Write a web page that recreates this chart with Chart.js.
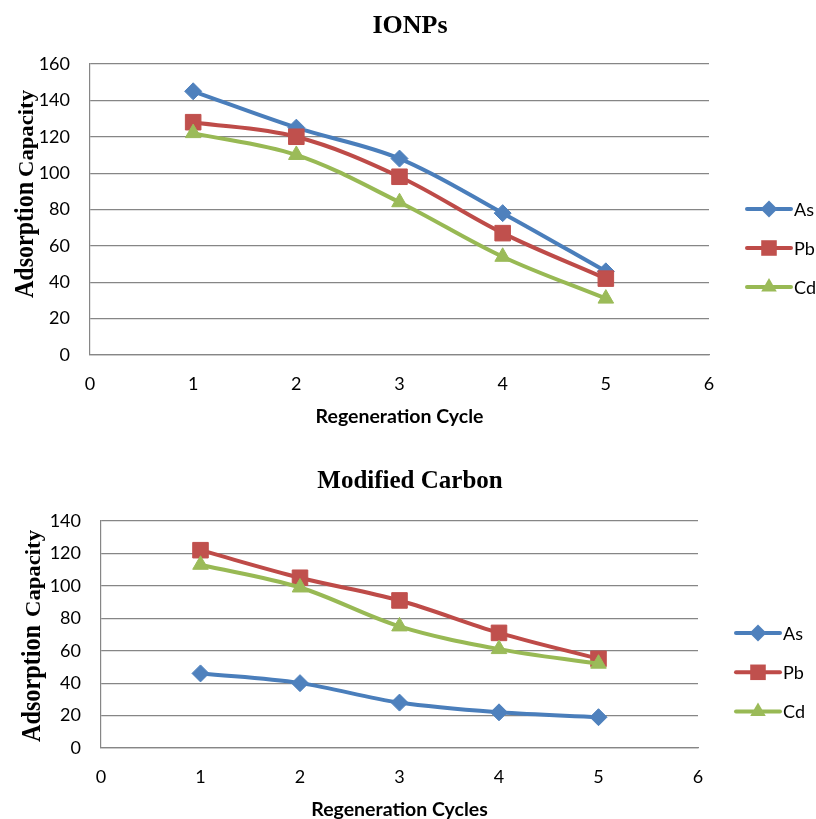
<!DOCTYPE html>
<html>
<head>
<meta charset="utf-8">
<title>Adsorption capacity over regeneration cycles</title>
<script src="https://cdn.jsdelivr.net/npm/chart.js@4/dist/chart.umd.min.js"></script>
<style>
  html, body { margin: 0; padding: 0; background: #ffffff; }
  #wrap { position: relative; width: 816px; height: 819px; overflow: hidden; background: #ffffff; }
  .panel { position: absolute; left: 0; }
</style>
</head>
<body>
<div id="wrap">
  <div class="panel" style="top:0px"><canvas id="ionpsChart" width="816" height="440"></canvas></div>
  <div class="panel" style="top:440px"><canvas id="carbonChart" width="816" height="379"></canvas></div>
</div>
<script>
// ---- data ----
const cycles = [1, 2, 3, 4, 5];
const seriesNames = ['As', 'Pb', 'Cd'];

const ionpsAs = [145, 125, 108, 78, 46];
const ionpsPb = [128, 120, 98, 67, 42];
const ionpsCd = [122, 110, 84, 54, 31];

const carbonAs = [46, 40, 28, 22, 19];
const carbonPb = [122, 105, 91, 71, 55];
const carbonCd = [113, 99, 75, 61, 52];

const xTicks = [0, 1, 2, 3, 4, 5, 6];
const ionpsYTicks = [0, 20, 40, 60, 80, 100, 120, 140, 160];
const carbonYTicks = [0, 20, 40, 60, 80, 100, 120, 140];

const ionpsTitle = 'IONPs';
const carbonTitle = 'Modified Carbon';
const yTitleParts = ['Adsorption', 'Capacity'];
const ionpsXTitle = 'Regeneration Cycle';
const carbonXTitle = 'Regeneration Cycles';

// ---- styling ----
const lineColors = ['#4A7EBB', '#BE4B48', '#98B954'];
const markerColors = ['#4F81BD', '#C0504D', '#9BBB59'];
const markerStyles = ['rectRot', 'rect', 'triangle'];
const markerRadius = [8.5, 11, 9];
const gridColor = '#868686';
const tickFont = { family: 'Lato', size: 18 };
const serif = '"Liberation Serif", "Times New Roman", serif';

function makeDatasets(values) {
  return values.map((vals, i) => ({
    label: seriesNames[i],
    data: cycles.map((c, k) => ({ x: c, y: vals[k] })),
    borderColor: lineColors[i],
    backgroundColor: markerColors[i],
    pointBackgroundColor: markerColors[i],
    pointBorderColor: markerColors[i],
    borderWidth: 4,
    pointStyle: markerStyles[i],
    pointRadius: markerRadius[i],
    pointHoverRadius: markerRadius[i],
    pointBorderWidth: 1,
    tension: 0.35,
    order: 3 - i
  }));
}

// Small marker shapes used by the legend swatches
function drawMarker(ctx, style, x, y, r, color) {
  ctx.save();
  ctx.fillStyle = color;
  ctx.beginPath();
  if (style === 'rectRot') {
    ctx.moveTo(x, y - r); ctx.lineTo(x + r, y); ctx.lineTo(x, y + r); ctx.lineTo(x - r, y);
  } else if (style === 'rect') {
    const s = r * Math.SQRT1_2;
    ctx.rect(x - s, y - s, 2 * s, 2 * s);
  } else {
    const h = r * 1.5, w = r * Math.sqrt(3);
    ctx.moveTo(x, y - r); ctx.lineTo(x + w / 2, y + h - r); ctx.lineTo(x - w / 2, y + h - r);
  }
  ctx.closePath();
  ctx.fill();
  ctx.restore();
}

// Titles, two-size vertical axis title and line+marker legend
const decorPlugin = {
  id: 'decor',
  afterDraw(chart, args, o) {
    const ctx = chart.ctx;
    ctx.save();
    ctx.fillStyle = '#000000';

    // chart title
    ctx.font = 'bold ' + o.titleSize + 'px ' + serif;
    ctx.textAlign = 'center';
    ctx.textBaseline = 'alphabetic';
    ctx.fillText(o.title, o.titleX, o.titleY);

    // vertical axis title, read bottom-to-top
    ctx.save();
    ctx.translate(o.yTitleBaseX, o.yTitleStartY);
    ctx.rotate(-Math.PI / 2);
    ctx.textAlign = 'left';
    let pos = 0;
    o.yTitleParts.forEach((part, i) => {
      ctx.font = 'bold ' + o.yTitleSizes[i] + 'px ' + serif;
      const w = ctx.measureText(part).width;
      const sx = o.yTitleLengths[i] / w;
      ctx.save();
      ctx.translate(pos, 0);
      ctx.scale(sx, 1);
      ctx.fillText(part, 0, 0);
      ctx.restore();
      pos += o.yTitleLengths[i] + o.yTitleGap;
    });
    ctx.restore();

    // legend
    ctx.textAlign = 'left';
    ctx.textBaseline = 'middle';
    ctx.font = '18px Lato';
    chart.data.datasets.forEach((ds, i) => {
      const y = o.legendY + i * o.legendGap;
      ctx.strokeStyle = ds.borderColor;
      ctx.lineWidth = 4;
      ctx.lineCap = 'round';
      ctx.beginPath();
      ctx.moveTo(o.legendX, y);
      ctx.lineTo(o.legendX + 44, y);
      ctx.stroke();
      drawMarker(ctx, ds.pointStyle, o.legendX + 22, y, ds.pointRadius, ds.pointBackgroundColor);
      ctx.fillStyle = '#000000';
      ctx.fillText(ds.label, o.legendX + 47, y + 1);
    });
    ctx.restore();
  }
};

function buildChart(canvasId, values, yTicks, cfg) {
  const ctx = document.getElementById(canvasId).getContext('2d');
  return new Chart(ctx, {
    type: 'line',
    data: { datasets: makeDatasets(values) },
    plugins: [decorPlugin],
    options: {
      responsive: false,
      animation: false,
      events: [],
      layout: { padding: { top: cfg.padTop, right: cfg.padRight, left: 0, bottom: 0 } },
      plugins: {
        legend: { display: false },
        title: { display: false },
        tooltip: { enabled: false },
        decor: cfg.decor
      },
      scales: {
        x: {
          type: 'linear',
          min: xTicks[0],
          max: xTicks[xTicks.length - 1],
          afterBuildTicks: (scale) => { scale.ticks = xTicks.map(v => ({ value: v })); },
          afterFit: (scale) => { scale.height = cfg.xHeight; },
          grid: { display: false, drawTicks: false },
          border: { display: true, color: gridColor, width: 1.2 },
          ticks: { color: '#000000', font: tickFont, padding: 18, maxRotation: 0 },
          title: {
            display: true,
            text: cfg.xTitle,
            color: '#000000',
            font: { family: 'Lato', size: 19.5, weight: 'bold', lineHeight: 1 },
            padding: { top: 0, bottom: cfg.xTitlePad }
          }
        },
        y: {
          min: yTicks[0],
          max: yTicks[yTicks.length - 1],
          afterBuildTicks: (scale) => { scale.ticks = yTicks.map(v => ({ value: v })); },
          afterFit: (scale) => { scale.width = cfg.yWidth; },
          grid: { color: gridColor, lineWidth: 1.2, drawTicks: false },
          border: { display: true, color: gridColor, width: 1.2 },
          ticks: { color: '#000000', font: tickFont, padding: 20 }
        }
      }
    }
  });
}

buildChart('ionpsChart', [ionpsAs, ionpsPb, ionpsCd], ionpsYTicks, {
  padTop: 64, padRight: 107, xHeight: 85, yWidth: 90, xTitle: ionpsXTitle, xTitlePad: 14,
  decor: {
    title: ionpsTitle, titleSize: 26, titleX: 410, titleY: 33,
    yTitleParts: yTitleParts, yTitleSizes: [27, 21], yTitleLengths: [116, 87], yTitleGap: 5,
    yTitleBaseX: 33, yTitleStartY: 298,
    legendX: 747, legendY: 209, legendGap: 39
  }
});

buildChart('carbonChart', [carbonAs, carbonPb, carbonCd], carbonYTicks, {
  padTop: 81, padRight: 118, xHeight: 71, yWidth: 101, xTitle: carbonXTitle, xTitlePad: 0,
  decor: {
    title: carbonTitle, titleSize: 25, titleX: 410, titleY: 48,
    yTitleParts: yTitleParts, yTitleSizes: [27, 21], yTitleLengths: [117, 87], yTitleGap: 8,
    yTitleBaseX: 40, yTitleStartY: 302,
    legendX: 736, legendY: 193, legendGap: 39.3
  }
});
</script>
</body>
</html>
